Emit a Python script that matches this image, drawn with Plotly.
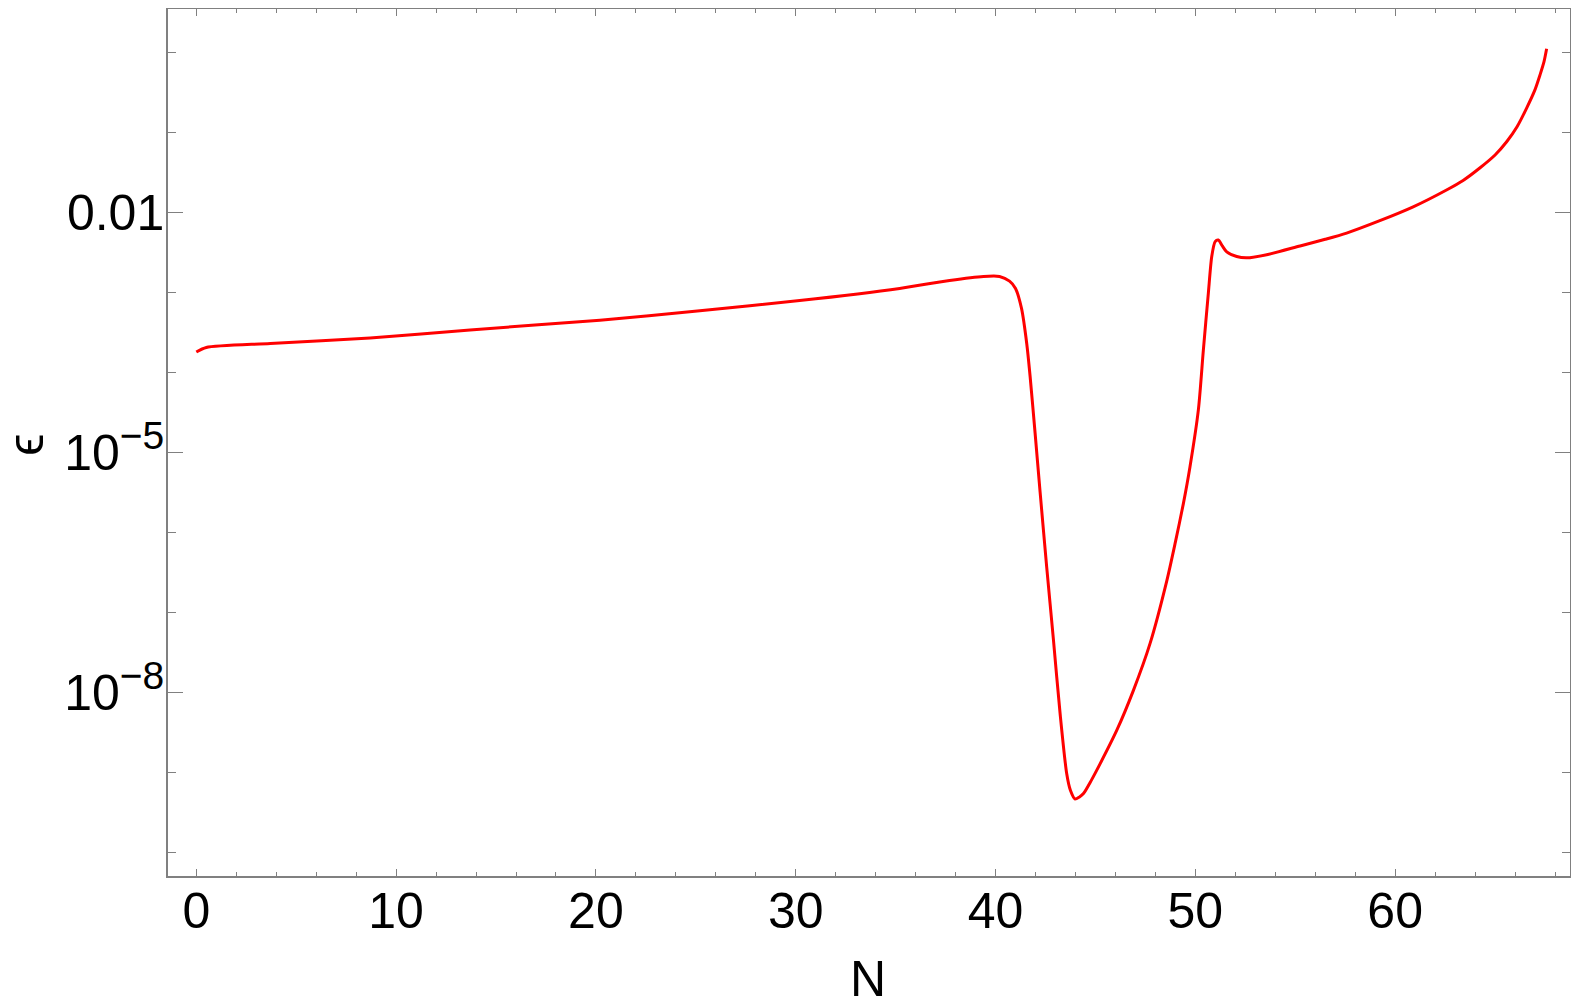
import plotly.graph_objects as go

# e-folds N and slow-roll epsilon
N = [0.0, 0.5, 3.7, 8.7, 13.7, 20.2, 25.2, 30.2, 35.2, 37.7, 39.4, 40.2, 40.7, 41.0,
     41.3, 41.56, 41.73, 41.98, 42.23, 42.56, 42.9, 43.23, 43.56, 43.75, 43.98, 44.2,
     44.4, 44.8, 45.23, 46.07, 46.9, 47.73, 48.57, 49.0, 49.4, 49.73, 50.15, 50.4, 50.65,
     50.82, 50.99, 51.15, 51.35, 51.57, 52.07, 52.57, 53.57, 55.24, 56.5, 57.57, 59.2,
     60.9, 62.57, 63.4, 64.25, 65.0, 65.58, 66.1, 66.58, 67.0, 67.25, 67.45, 67.58]
eps = [1.8e-4, 2.05e-4, 2.3e-4, 2.7e-4, 3.4e-4, 4.5e-4, 5.9e-4, 7.9e-4, 1.12e-3, 1.41e-3,
       1.58e-3, 1.58e-3, 1.38e-3, 1.12e-3, 6.3e-4, 2.3e-4, 8.9e-5, 1.74e-5, 3.2e-6, 3.7e-7,
       4.5e-8, 5.5e-9, 9.8e-10, 6.0e-10, 4.7e-10, 5.0e-10, 5.5e-10, 8.1e-10, 1.29e-9, 3.4e-9,
       1.07e-8, 4.1e-8, 2.5e-7, 7.6e-7, 2.3e-6, 6.6e-6, 3.4e-5, 1.9e-4, 9.8e-4, 2.8e-3,
       4.3e-3, 4.5e-3, 3.8e-3, 3.2e-3, 2.8e-3, 2.7e-3, 2.95e-3, 3.8e-3, 4.6e-3, 5.5e-3,
       7.8e-3, 1.17e-2, 1.9e-2, 2.5e-2, 3.6e-2, 5.2e-2, 7.6e-2, 0.117, 0.2, 0.34, 0.52,
       0.76, 1.1]

x_ticks = [0, 10, 20, 30, 40, 50, 60]
y_ticks = [1e-2, 1e-5, 1e-8]
y_tick_text = ["0.01",
               "10<sup><span style='font-size:39px'>\u22125</span></sup>",
               "10<sup><span style='font-size:39px'>\u22128</span></sup>"]
y_minor = [10.0 ** k for k in range(-10, 1)]

frame = "#808080"
font = "Liberation Sans, Arial, sans-serif"

fig = go.Figure()
fig.add_trace(go.Scatter(
    x=N,
    y=eps,
    mode="lines",
    line=dict(color="#ff0000", width=3, shape="spline", smoothing=0.7),
    showlegend=False
))

fig.update_xaxes(
    range=[-1.417, 68.75], automargin=False,
    tickmode="array", tickvals=x_ticks,
    ticks="inside", ticklen=7, tickwidth=1.3, tickcolor=frame,
    minor=dict(dtick=2, tick0=0, ticks="inside", ticklen=4, tickwidth=1, tickcolor=frame),
    showline=True, linecolor=frame, linewidth=1.5, mirror="allticks",
    showgrid=False, zeroline=False,
    ticklabelstandoff=-10,
    tickfont=dict(family=font, size=50, color="black")
)
fig.update_yaxes(
    type="log", range=[-10.289, 0.539], automargin=False,
    tickmode="array", tickvals=y_ticks, ticktext=y_tick_text,
    ticks="inside", ticklen=15, tickwidth=1.3, tickcolor=frame,
    minor=dict(tickmode="array", tickvals=y_minor, ticks="inside", ticklen=8, tickwidth=1, tickcolor=frame),
    showline=True, linecolor=frame, linewidth=1.5, mirror="allticks",
    showgrid=False, zeroline=False,
    ticklabelstandoff=-8,
    tickfont=dict(family=font, size=50, color="black")
)

# axis labels
fig.add_annotation(text="N", xref="paper", yref="paper", x=0.4993, y=0,
                   xanchor="center", yanchor="middle", yshift=-103, showarrow=False,
                   font=dict(family=font, size=50, color="black"))
fig.add_annotation(text="\u03f5", xref="paper", yref="paper", x=-0.1015, y=0.497,
                   xanchor="center", yanchor="middle", textangle=-90, showarrow=False,
                   font=dict(family=font, size=50, color="black"))

# page body has an 8px margin, so keep the figure inside the window
fig.update_layout(
    width=1563, height=991,
    margin=dict(l=160, r=1, t=1, b=123),
    plot_bgcolor="white", paper_bgcolor="white"
)

fig.write_html("out.html")
